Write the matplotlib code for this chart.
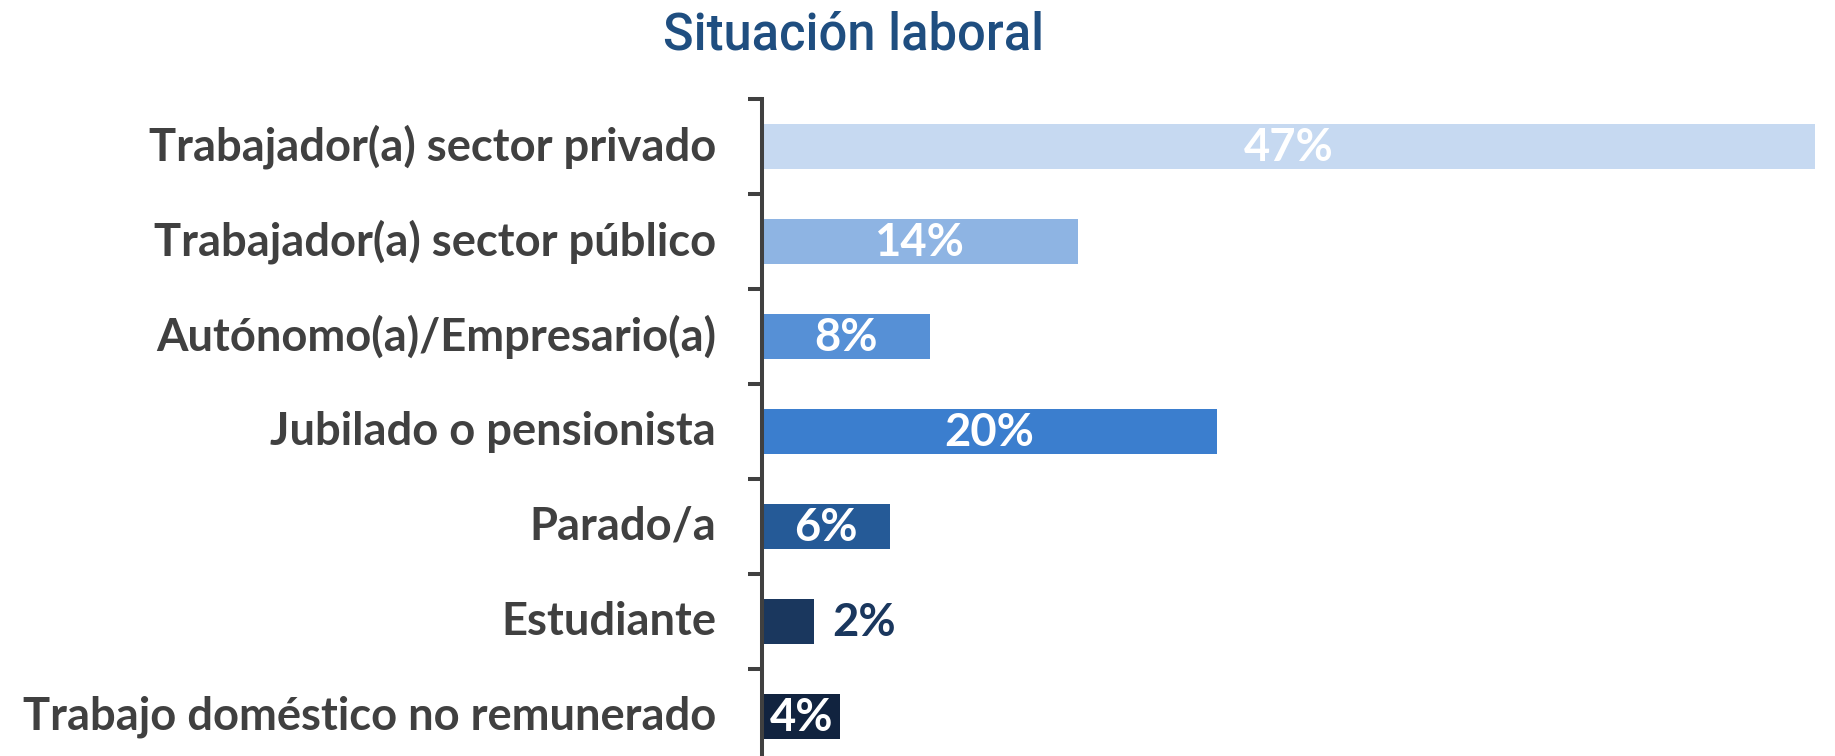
import matplotlib
matplotlib.use("Agg")
import matplotlib.pyplot as plt

# ---- data ----
categories = [
    "Trabajador(a) sector privado",
    "Trabajador(a) sector público",
    "Autónomo(a)/Empresario(a)",
    "Jubilado o pensionista",
    "Parado/a",
    "Estudiante",
    "Trabajo doméstico no remunerado",
]
values = [47.0, 14.1, 7.5, 20.3, 5.7, 2.3, 3.5]
value_labels = ["47%", "14%", "8%", "20%", "6%", "2%", "4%"]
bar_colors = ["#C6D9F1", "#8EB4E3", "#5690D6", "#3B7ECE", "#255A97", "#1A375E", "#11233F"]
label_inside = [True, True, True, True, True, False, True]
title = "Situación laboral"

# ---- style ----
W, H = 1835, 756
TEXT_GREY = "#404040"
LABEL_FONT = ["Lato", "DejaVu Sans"]
TITLE_FONT = ["Roboto", "DejaVu Sans"]

fig = plt.figure(figsize=(W / 100, H / 100), dpi=100)
fig.patch.set_facecolor("white")

# fit font sizes to the reference text widths
renderer = fig.canvas.get_renderer()
probe = fig.text(0, 0, categories[0], fontsize=30, fontweight="bold", family=LABEL_FONT)
w = probe.get_window_extent(renderer).width
probe.remove()
FS = 30 * 566 / w

probe = fig.text(0, 0, title, fontsize=30, fontweight=500, family=TITLE_FONT)
w = probe.get_window_extent(renderer).width
probe.remove()
TFS = 30 * 380 / w

ax_top = 99
ax_h = 7 * 95
ax_left = 762
ax_w = 1053
ax = fig.add_axes([ax_left / W, 1 - (ax_top + ax_h) / H, ax_w / W, ax_h / H])

y = list(range(len(categories)))
ax.barh(y, values, height=0.48, color=bar_colors, edgecolor="none", zorder=2)
ax.set_xlim(0, 47.0)
ax.set_ylim(len(categories) - 0.5, -0.5)

for i, (v, lab, inside) in enumerate(zip(values, value_labels, label_inside)):
    if inside:
        ax.text(v / 2, i + 0.153, lab, ha="center", va="baseline", color="white",
                fontsize=FS, fontweight="bold", family=LABEL_FONT, zorder=3)
    else:
        ax.annotate(lab, xy=(v, i + 0.153), xytext=(13.7, 0), textcoords="offset points",
                    ha="left", va="baseline", color=bar_colors[i],
                    fontsize=FS, fontweight="bold", family=LABEL_FONT, zorder=3)

# axes styling
for s in ["top", "right", "bottom"]:
    ax.spines[s].set_visible(False)
ax.spines["left"].set_color(TEXT_GREY)
ax.spines["left"].set_linewidth(2.9)
ax.xaxis.set_visible(False)
ax.set_yticks(y)
ax.set_yticklabels(categories, fontsize=FS, fontweight="bold", color=TEXT_GREY, family=LABEL_FONT)
for t in ax.get_yticklabels():
    t.set_verticalalignment("center")
ax.set_yticks([i - 0.5 for i in range(len(categories) + 1)], minor=True)
ax.tick_params(axis="y", which="major", length=0, pad=33)
ax.tick_params(axis="y", which="minor", length=10, width=2.9, color=TEXT_GREY)
ax.set_facecolor("none")

fig.text(854 / W, 1 - 49.5 / H, title, ha="center", va="baseline",
         fontsize=TFS, fontweight=500, family=TITLE_FONT, color="#1F4E80")

fig.savefig("out.png", dpi=100, facecolor="white")
